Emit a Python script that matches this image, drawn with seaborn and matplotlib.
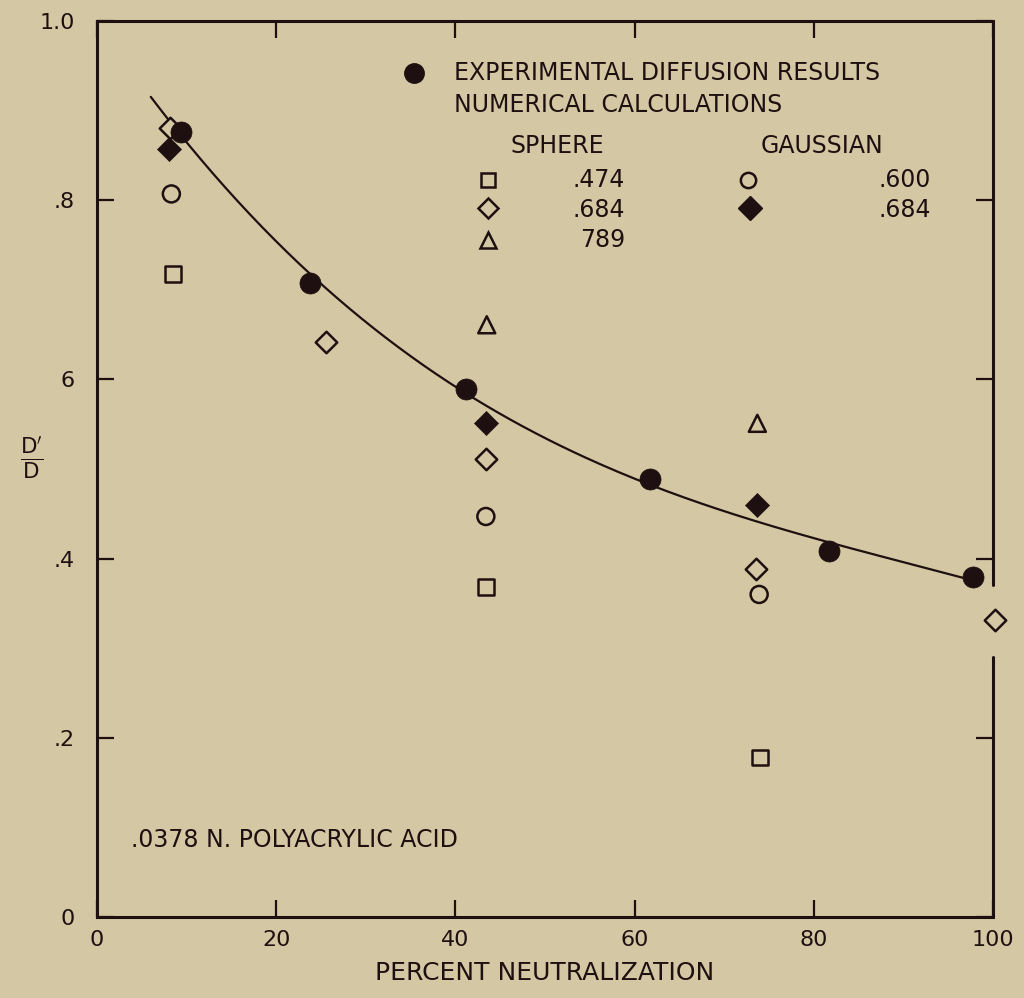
import numpy as np
import pandas as pd
import matplotlib
matplotlib.use("Agg")
import matplotlib.pyplot as plt
import seaborn as sns

# ---- data ----
exp_x = [9.4, 23.8, 41.2, 61.7, 81.7, 97.8]
exp_y = [0.876, 0.708, 0.589, 0.489, 0.409, 0.379]

sph474_x = [8.5, 43.4, 74.0]
sph474_y = [0.718, 0.368, 0.178]

sph684_x = [8.1, 25.6, 43.4, 73.5, 100.2]
sph684_y = [0.881, 0.642, 0.511, 0.388, 0.331]

sph789_x = [43.5, 73.7]
sph789_y = [0.661, 0.551]

gau600_x = [8.3, 43.4, 73.9]
gau600_y = [0.807, 0.447, 0.360]

gau684_x = [8.0, 43.4, 73.7]
gau684_y = [0.857, 0.551, 0.460]

curve_start = 6.0

x_ticks = [0, 20, 40, 60, 80, 100]
x_ticklabels = ["0", "20", "40", "60", "80", "100"]
y_ticks = [0, 0.2, 0.4, 0.6, 0.8, 1.0]
y_ticklabels = ["0", ".2", ".4", "6", ".8", "1.0"]

BG = "#d4c8a4"
INK = "#1e1010"
FS = 17

sns.set_theme(style="ticks")
plt.rcParams["font.family"] = ["DejaVu Sans"]
plt.rcParams["mathtext.fontset"] = "dejavusans"

fig = plt.figure(figsize=(10.24, 9.98), dpi=100, facecolor=BG)
ax = fig.add_axes([97 / 1024, 1 - 917 / 998, (993 - 97) / 1024, (917 - 21) / 998])
ax.set_facecolor(BG)

# fitted smooth curve through the experimental points
coef = np.polyfit(exp_x, exp_y, 3)
cx = np.linspace(curve_start, max(exp_x), 200)
curve = pd.DataFrame({"x": cx, "y": np.polyval(coef, cx)})
sns.lineplot(data=curve, x="x", y="y", ax=ax, color=INK, linewidth=1.6, zorder=2)

def pts(x, y):
    return pd.DataFrame({"x": x, "y": y})

common = dict(ax=ax, zorder=3, clip_on=False, legend=False)
sns.scatterplot(data=pts(sph474_x, sph474_y), x="x", y="y", marker="s", s=130,
                facecolor="none", edgecolor=INK, linewidth=1.8, **common)
sns.scatterplot(data=pts(sph684_x, sph684_y), x="x", y="y", marker="D", s=120,
                facecolor=BG, edgecolor=INK, linewidth=1.8, **common)
sns.scatterplot(data=pts(sph789_x, sph789_y), x="x", y="y", marker="^", s=150,
                facecolor="none", edgecolor=INK, linewidth=1.8, **common)
sns.scatterplot(data=pts(gau600_x, gau600_y), x="x", y="y", marker="o", s=150,
                facecolor="none", edgecolor=INK, linewidth=1.8, **common)
sns.scatterplot(data=pts(gau684_x, gau684_y), x="x", y="y", marker="D", s=150,
                color=INK, edgecolor=INK, linewidth=0.5, **common)
sns.scatterplot(data=pts(exp_x, exp_y), x="x", y="y", marker="o", s=230,
                color=INK, edgecolor=INK, linewidth=0.5, **common)

ax.set_xlim(0, 100)
ax.set_ylim(0, 1.0)
ax.set_xticks(x_ticks)
ax.set_xticklabels(x_ticklabels)
ax.set_yticks(y_ticks)
ax.set_yticklabels(y_ticklabels)
ax.tick_params(axis="both", which="both", direction="in", length=12, width=1.6,
               colors=INK, labelsize=16, top=True, right=True)
ax.tick_params(axis="x", pad=9)
ax.tick_params(axis="y", pad=16)
ax.set_xlabel("PERCENT NEUTRALIZATION", fontsize=18, color=INK, labelpad=8)
ax.set_ylabel("")

for side in ["left", "top", "bottom"]:
    ax.spines[side].set_linewidth(2.2)
    ax.spines[side].set_color(INK)
ax.spines["right"].set_visible(False)
# right frame is broken where the 100% point sits
ax.axvline(100, ymin=0.0, ymax=0.29, color=INK, linewidth=2.2, clip_on=False)
ax.axvline(100, ymin=0.37, ymax=1.0, color=INK, linewidth=2.2, clip_on=False)

fig.text(32 / 1024, 1 - 458 / 998, r"$\frac{\mathrm{D}^{\prime}}{\mathrm{D}}$", fontsize=22,
         color=INK, ha="center", va="center")

# ---- in-plot legend (drawn as text + markers in axes fraction) ----
def axf(px, py):
    return ((px - 97) / 896, (917 - py) / 896)

tk = dict(transform=ax.transAxes, fontsize=FS, color=INK, va="center")
mk = dict(transform=ax.transAxes, clip_on=False, linestyle="none", zorder=4)

ax.plot(*axf(414, 73), marker="o", markersize=14, color=INK, **mk)
ax.text(*axf(454, 73), "EXPERIMENTAL DIFFUSION RESULTS", ha="left", **tk)
ax.text(*axf(454, 105), "NUMERICAL CALCULATIONS", ha="left", **tk)
ax.text(*axf(557, 146), "SPHERE", ha="center", **tk)
ax.text(*axf(822, 146), "GAUSSIAN", ha="center", **tk)

ax.plot(*axf(488, 180), marker="s", markersize=10, mfc="none", mec=INK, mew=1.8, **mk)
ax.text(*axf(625, 180), ".474", ha="right", **tk)
ax.plot(*axf(488, 208), marker="D", markersize=10, mfc="none", mec=INK, mew=1.8, **mk)
ax.text(*axf(625, 210), ".684", ha="right", **tk)
ax.plot(*axf(488, 240), marker="^", markersize=11, mfc="none", mec=INK, mew=1.8, **mk)
ax.text(*axf(625, 240), "789", ha="right", **tk)

ax.plot(*axf(748, 180), marker="o", markersize=11, mfc="none", mec=INK, mew=1.8, **mk)
ax.text(*axf(931, 180), ".600", ha="right", **tk)
ax.plot(*axf(750, 208), marker="D", markersize=12, mfc=INK, mec=INK, **mk)
ax.text(*axf(931, 210), ".684", ha="right", **tk)

ax.text(*axf(131, 840), ".0378 N. POLYACRYLIC ACID", ha="left", **tk)

fig.savefig("out.png", dpi=100, facecolor=BG)
